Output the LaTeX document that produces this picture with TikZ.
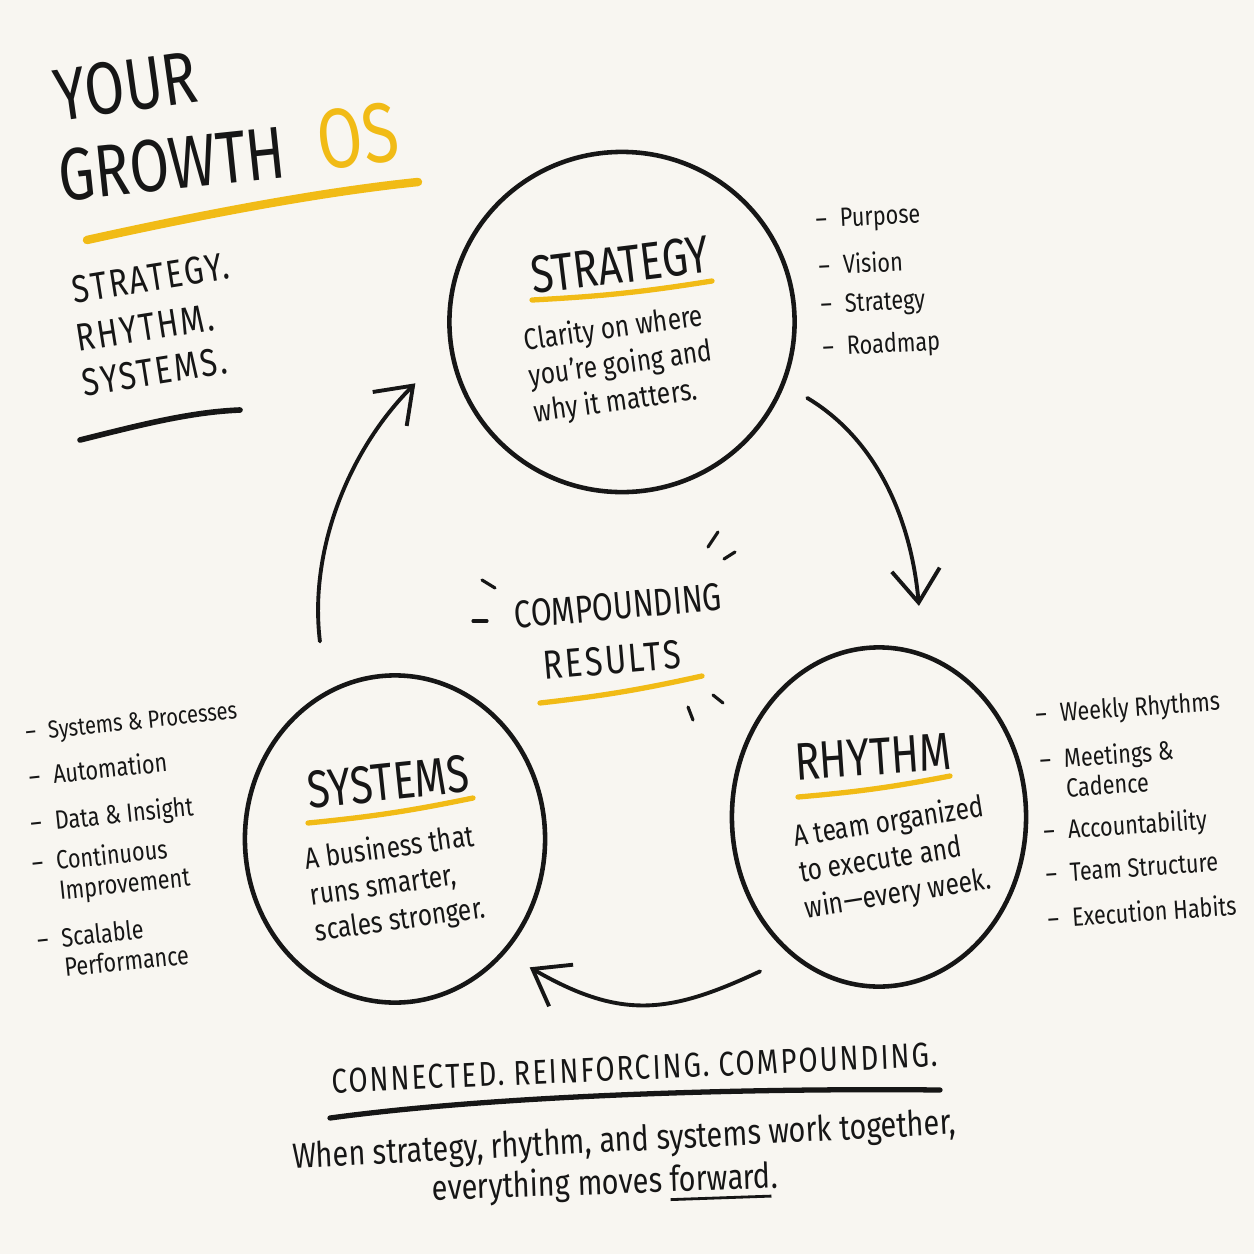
\documentclass[tikz,border=0pt]{standalone}
\usepackage{fontspec}
\usetikzlibrary{arrows.meta,shapes.geometric}
\setmainfont{Fira Sans}
\newfontfamily\handfont[FakeStretch=0.82]{Fira Sans}
\newfontfamily\capsfont[FakeStretch=0.78]{Fira Sans}
\newfontfamily\spacedcaps[FakeStretch=0.8,LetterSpace=6]{Fira Sans}
\definecolor{paper}{RGB}{248,246,241}
\definecolor{ink}{RGB}{22,22,22}
\definecolor{marker}{RGB}{241,187,22}
\newcommand{\penunder}[1]{\setbox0\hbox{#1}\rlap{\rule[-2.6pt]{\wd0}{0.8pt}}#1}

\begin{document}
\begin{tikzpicture}[x=0.01cm, y=0.01cm,
    stage/.style={ellipse, draw=ink, line width=1.3pt, inner sep=0pt},
    banner/.style={font=\capsfont\fontsize{21}{21}\selectfont, text=ink},
    heading/.style={font=\capsfont\fontsize{15}{17}\selectfont, text=ink},
    tagline/.style={font=\spacedcaps\fontsize{11}{13}\selectfont, text=ink},
    blurb/.style={font=\handfont\fontsize{8.5}{10.3}\selectfont, text=ink, align=left, anchor=west, inner sep=0pt},
    item/.style={font=\handfont\fontsize{7.5}{8.5}\selectfont, text=ink, anchor=west, inner sep=0pt, align=left},
    closing/.style={font=\handfont\fontsize{10}{12}\selectfont, text=ink},
    flow/.style={draw=ink, line width=1.1pt, line cap=round, -{Straight Barb[length=3.3mm,width=4.8mm]}},
    highlight/.style={draw=marker, line width=1.5pt, line cap=round},
    stroke/.style={draw=ink, line width=0.9pt, line cap=round}]

  \fill[paper] (0,0) rectangle (1254,-1254);

  % title
  \node[banner, rotate=8] (your) at (126,-86) {YOUR};
  \node[banner, rotate=6] (growth) at (172,-164) {GROWTH};
  \node[banner, text=marker, font=\capsfont\fontsize{24}{24}\selectfont, rotate=8] (os) at (358,-136) {OS};
  \draw[highlight, line width=2.4pt] (87,-240) .. controls (200,-215) and (320,-192) .. (418,-182);

  \node[tagline, anchor=west, inner sep=0pt, rotate=9] (t1) at (72,-290) {STRATEGY.};
  \node[tagline, anchor=west, inner sep=0pt, rotate=9] (t2) at (76,-339) {RHYTHM.};
  \node[tagline, anchor=west, inner sep=0pt, rotate=9] (t3) at (82,-383) {SYSTEMS.};
  \draw[stroke, line width=1.6pt] (80,-440) .. controls (140,-425) and (190,-412) .. (240,-410);

  % the three stages
  \node[stage, minimum width=3.45cm, minimum height=3.4cm] (strategy) at (622,-322) {};
  \node[heading, rotate=7] (strattitle) at (620,-265) {STRATEGY};
  \draw[highlight] (532,-300) to[bend right=3] (712,-281);
  \node[blurb, rotate=8] (stratbody) at (529,-378) {Clarity on where\\you’re going and\\why it matters.};

  \node[stage, minimum width=2.94cm, minimum height=3.39cm] (rhythm) at (879,-817) {};
  \node[heading, rotate=4] (rhytitle) at (873,-757) {RHYTHM};
  \draw[highlight] (798,-797) to[bend right=3] (950,-776);
  \node[blurb, rotate=9] (rhybody) at (799,-874) {A team organized\\to execute and\\win—every week.};

  \node[stage, minimum width=3cm, minimum height=3.27cm] (systems) at (395,-839) {};
  \node[heading, rotate=6] (systitle) at (388,-782) {SYSTEMS};
  \draw[highlight] (308,-823) to[bend right=3] (473,-798);
  \node[blurb, rotate=8] (sysbody) at (310,-897) {A business that\\runs smarter,\\scales stronger.};

  % lists
  \node[item, rotate=3] (sl1) at (815,-222) {–\enspace Purpose};
  \node[item, rotate=3] (sl2) at (818,-265) {–\enspace Vision};
  \node[item, rotate=3] (sl3) at (820,-307) {–\enspace Strategy};
  \node[item, rotate=3] (sl4) at (822,-349) {–\enspace Roadmap};

  \node[item, rotate=4] (rl1) at (1035,-716) {–\enspace Weekly Rhythms};
  \node[item, rotate=4] (rl2) at (1040,-774) {–\enspace Meetings \&\\\hphantom{–\enspace }Cadence};
  \node[item, rotate=4] (rl3) at (1043,-833) {–\enspace Accountability};
  \node[item, rotate=4] (rl4) at (1045,-874) {–\enspace Team Structure};
  \node[item, rotate=4] (rl5) at (1047,-918) {–\enspace Execution Habits};

  \node[item, font=\handfont\fontsize{7}{8.5}\selectfont, rotate=6] (yl1) at (25,-735) {–\enspace Systems \& Processes};
  \node[item, rotate=6] (yl2) at (28,-776) {–\enspace Automation};
  \node[item, rotate=6] (yl3) at (30,-825) {–\enspace Data \& Insight};
  \node[item, rotate=6] (yl4) at (33,-880) {–\enspace Continuous\\\hphantom{–\enspace }Improvement};
  \node[item, rotate=6] (yl5) at (38,-955) {–\enspace Scalable\\\hphantom{–\enspace }Performance};

  % centre
  \node[font=\capsfont\fontsize{11}{13}\selectfont, text=ink, rotate=5] (compound) at (618,-606) {COMPOUNDING};
  \node[tagline, font=\spacedcaps\fontsize{11.5}{13}\selectfont, rotate=5] (results) at (612,-660) {RESULTS};
  \draw[highlight] (540,-703) to[bend right=3] (702,-676);
  \draw[stroke] (708,-547) -- (718,-532);
  \draw[stroke] (724,-559) -- (735,-552);
  \draw[stroke] (482,-580) -- (495,-588);
  \draw[stroke] (473,-621) -- (487,-621);
  \draw[stroke] (713,-695) -- (723,-703);
  \draw[stroke] (688,-707) -- (693,-720);

  % cycle
  \draw[flow, shorten <=0.26cm, shorten >=0.47cm] (strategy.-21) to[out=-31, in=95] (rhythm.75);
  \draw[flow, shorten <=0.35cm, shorten >=0.28cm] (rhythm.238) to[out=205, in=-30, looseness=1.2] (systems.-46);
  \draw[flow, shorten <=0.5cm, shorten >=0.48cm] (systems.115) to[out=97, in=225] (strategy.189);

  % bottom
  \node[tagline, font=\spacedcaps\fontsize{9.8}{12}\selectfont, rotate=2.5] (motto) at (635,-1068) {CONNECTED.\ REINFORCING.\ COMPOUNDING.};
  \draw[stroke, line width=1.5pt] (330,-1118) .. controls (500,-1095) and (750,-1088) .. (940,-1090);
  \node[closing, rotate=3] (close1) at (624,-1142) {When strategy, rhythm, and systems work together,};
  \node[closing, rotate=2] (close2) at (605,-1185) {everything moves \penunder{forward}.};
\end{tikzpicture}
\end{document}
